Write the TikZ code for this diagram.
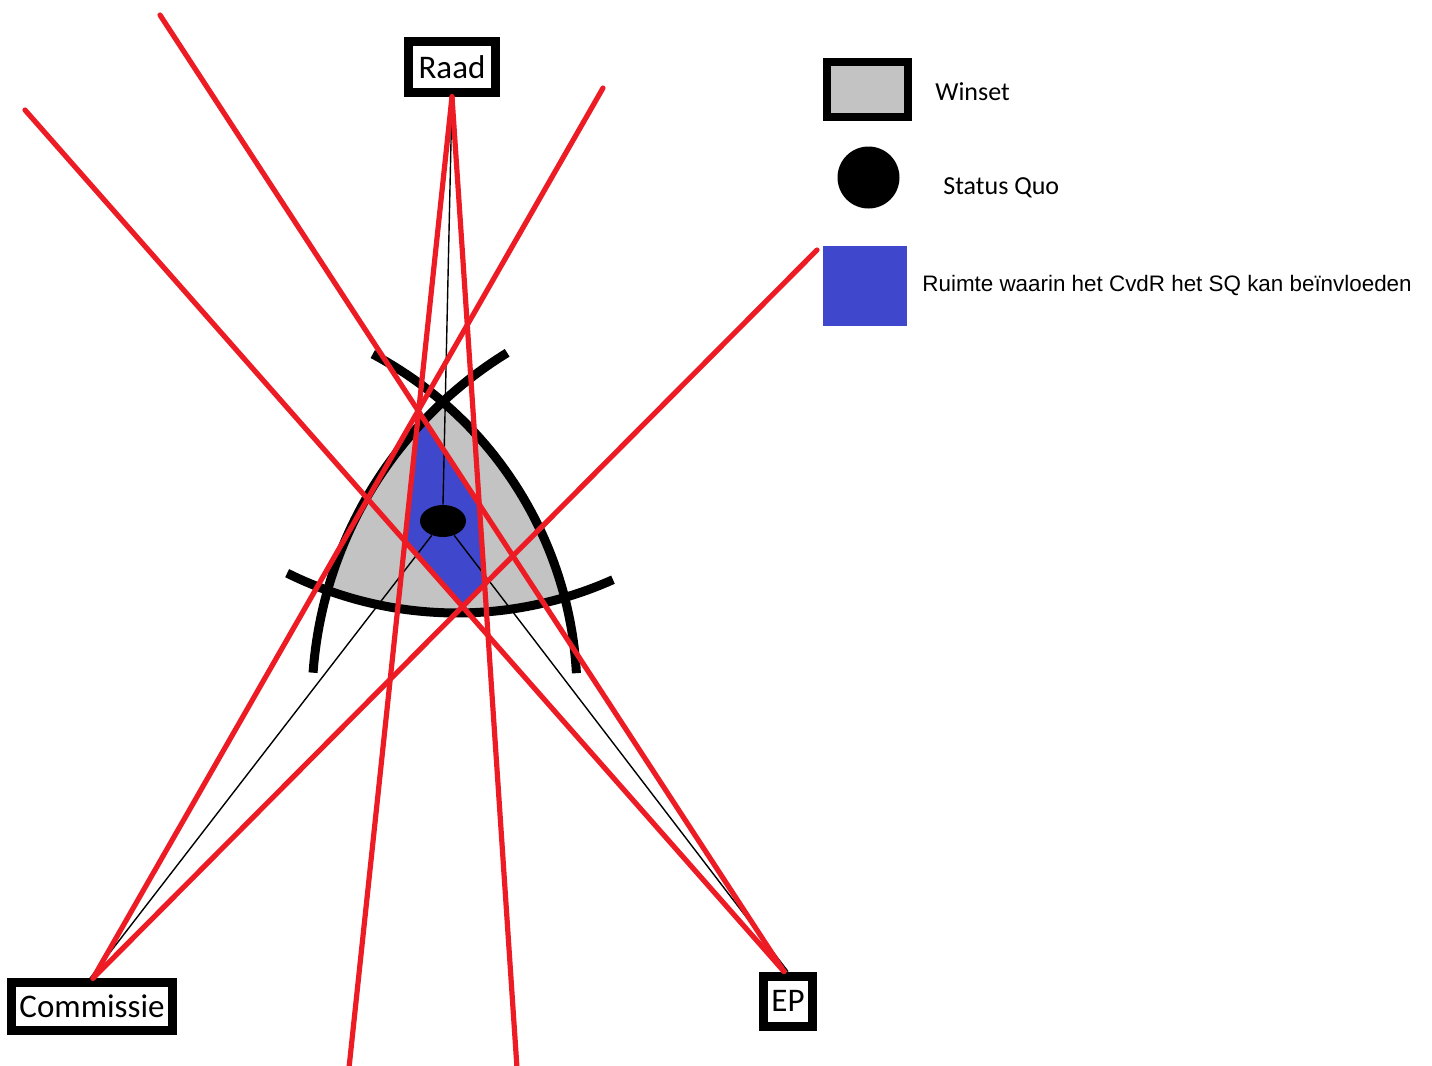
\documentclass[tikz,border=0pt]{standalone}
\usepackage{fontspec}
\setmainfont{Carlito}
\newfontfamily\arialfont{Liberation Sans}
\usetikzlibrary{shapes.geometric}
\definecolor{redline}{HTML}{ED1C24}
\definecolor{winsetgray}{HTML}{C3C3C3}
\definecolor{cvdrblue}{HTML}{3F48CC}
\begin{document}
\begin{tikzpicture}[x=0.5pt,y=-0.5pt,
  actor/.style={draw=black, line width=4.5pt, fill=white, inner sep=0pt, font=\fontsize{16.5}{18}\selectfont},
  redl/.style={draw=redline, line width=2.6pt, line cap=round},
  thinl/.style={draw=black, line width=0.7pt},
  arcl/.style={draw=black, line width=4.5pt},
  legtext/.style={anchor=base west, inner sep=0pt, font=\fontsize{13}{15}\selectfont},
  legarial/.style={anchor=base west, inner sep=0pt, font=\arialfont\fontsize{11.2}{13}\selectfont},
]
\useasboundingbox (0,0) rectangle (1432,1066);

% actors
\node[actor, minimum width=43.8pt, minimum height=25.5pt] (raad) at (452,66.7) {Raad};
\node[actor, minimum width=80.2pt, minimum height=23.9pt] (commissie) at (92,1006.7) {Commissie};
\node[actor, minimum width=24.5pt, minimum height=25pt] (ep) at (788,1001) {EP};

% red line free ends
\coordinate (r1) at (25,110);
\coordinate (r2) at (160,15);
\coordinate (r3) at (603,88);
\coordinate (r4) at (817,250);
\coordinate (r5) at (349,1068);
\coordinate (r6) at (517,1068);
\coordinate (rs) at (raad.south);
\coordinate (cs) at ([xshift=0.5pt]commissie.north);
\coordinate (es) at ([xshift=-2pt]ep.north);

% winset (grey)
\begin{scope}
  \clip (192,694) circle[radius=385];
  \clip (722,702) circle[radius=410];
  \fill[winsetgray] (457,231) circle[radius=382];
\end{scope}

% blue area
\begin{scope}
  \clip (192,694) circle[radius=385];
  \clip (722,702) circle[radius=410];
  \clip (457,231) circle[radius=382];
  \fill[cvdrblue] (intersection of rs--r5 and r2--es)
    -- (intersection of r2--es and rs--r6)
    -- (intersection of rs--r6 and r4--cs)
    -- (intersection of r4--cs and r1--es)
    -- (intersection of r1--es and rs--r5) -- cycle;
\end{scope}

% black arcs
\draw[arcl] plot[domain=-62:-3.1, samples=50, variable=\t] ({192+385*cos(\t)},{694+385*sin(\t)});
\draw[arcl] plot[domain=-121.6:-175.9, samples=50, variable=\t] ({722+410*cos(\t)},{702+410*sin(\t)});
\draw[arcl] plot[domain=116.4:65.9, samples=50, variable=\t] ({457+382*cos(\t)},{231+382*sin(\t)});

% status quo
\node[ellipse, fill=black, minimum width=23pt, minimum height=16pt, inner sep=0pt] (sq) at (443,521) {};

% thin lines
\draw[thinl] (raad.south) -- (sq.north);
\draw[thinl] (sq.232) -- ([xshift=-1pt]commissie.north);
\draw[thinl] (sq.308) -- (ep.north);

% red lines
\draw[redl] (r1) -- (es);
\draw[redl] (r2) -- (es);
\draw[redl] (r3) -- (cs);
\draw[redl] (r4) -- (cs);
\draw[redl] (rs) -- (r5);
\draw[redl] (rs) -- (r6);

% legend
\node[draw=black, line width=4pt, fill=winsetgray, minimum width=40.5pt, minimum height=27.4pt, inner sep=0pt] (legwin) at (867.2,89.7) {};
\node[legtext] (legwintxt) at (935,100) {Winset};
\node[circle, fill=black, minimum size=31pt, inner sep=0pt] (legsq) at (868.5,177.5) {};
\node[legtext] (legsqtxt) at (943,194) {Status Quo};
\node[fill=cvdrblue, minimum width=42.3pt, minimum height=40pt, inner sep=0pt] (legblue) at (865,286) {};
\node[legarial] (legbluetxt) at (922,291.5) {Ruimte waarin het CvdR het SQ kan beïnvloeden};
\end{tikzpicture}
\end{document}
